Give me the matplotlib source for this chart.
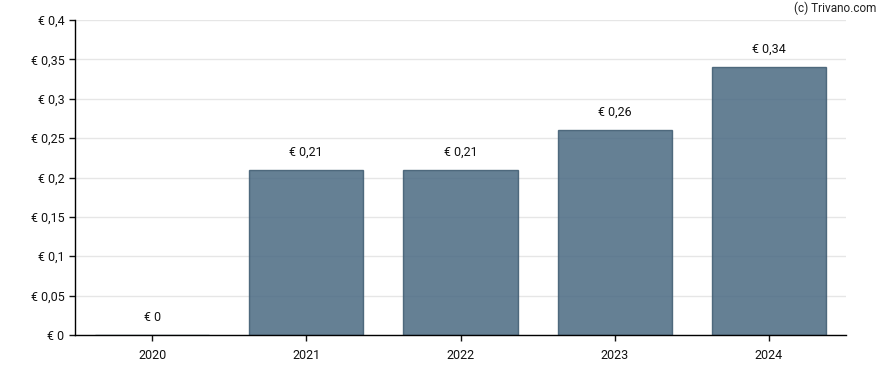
import matplotlib
matplotlib.use("Agg")
import matplotlib.pyplot as plt
from matplotlib.ticker import FuncFormatter, MultipleLocator

years = ["2020", "2021", "2022", "2023", "2024"]
dividends = [0.0, 0.21, 0.21, 0.26, 0.34]
labels = ["€ 0", "€ 0,21", "€ 0,21", "€ 0,26", "€ 0,34"]

plt.rcParams['font.family'] = ['Roboto', 'DejaVu Sans']

fig = plt.figure(figsize=(8.88, 3.70), dpi=100)
ax = fig.add_axes([75/888, 35/370, 771/888, 315/370])

x = range(len(years))
ax.bar(x, dividends, width=0.74, color="#4a6a82", alpha=0.85,
       edgecolor="#3d5a70", linewidth=1, zorder=2)

for i, v in enumerate(dividends):
    ax.annotate(labels[i], (i, v), xytext=(0, 8), textcoords="offset points",
                ha="center", va="bottom", fontsize=9, color="#111111")

def eur(v, pos):
    s = ("%.2f" % v).rstrip("0").rstrip(".")
    return "€ " + s.replace(".", ",")

ax.set_ylim(0, 0.4)
ax.set_xlim(-0.5, len(years) - 0.5)
ax.yaxis.set_major_locator(MultipleLocator(0.05))
ax.yaxis.set_major_formatter(FuncFormatter(eur))
ax.set_xticks(list(x))
ax.set_xticklabels(years)
ax.set_axisbelow(True)
ax.grid(axis="y", color="#e6e6e6", linewidth=1, zorder=0)
for s in ["top", "right"]:
    ax.spines[s].set_visible(False)
for s in ["left", "bottom"]:
    ax.spines[s].set_linewidth(1)
    ax.spines[s].set_zorder(3)
ax.tick_params(axis="both", length=4, width=1, labelsize=9, colors="#111111")
ax.tick_params(axis="x", pad=6)

fig.text(876/888, 1 - 8/370, "(c) Trivano.com", ha="right", va="center",
         fontsize=8.5, color="#222222")

fig.savefig("out.png", dpi=100)
